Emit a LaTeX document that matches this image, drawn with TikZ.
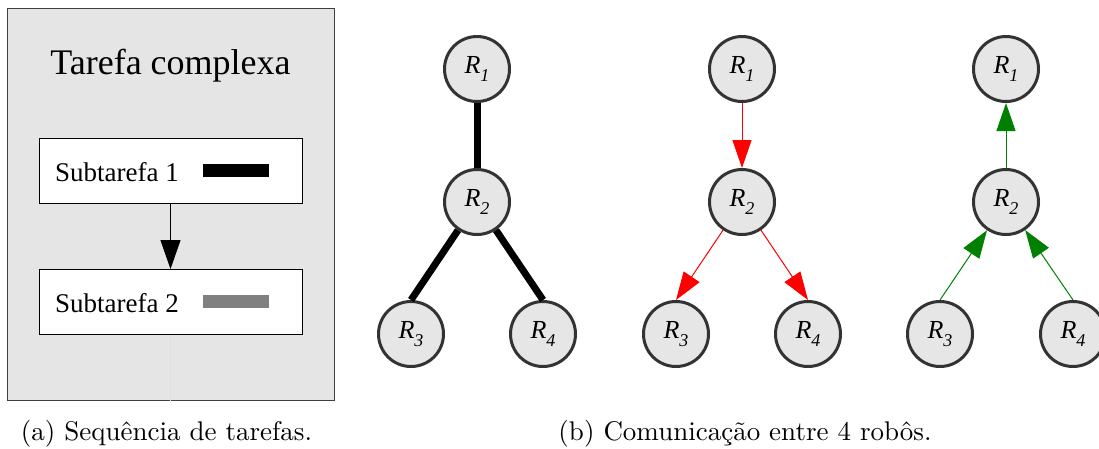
\documentclass[tikz,border=0pt]{standalone}
\usepackage{fontspec}
\usetikzlibrary{arrows.meta}
\newfontfamily\timesfont{Liberation Serif}
\newfontfamily\capfont{lmroman10-regular}[Extension=.otf]
\definecolor{panelgray}{HTML}{E5E5E5}
\definecolor{nodegray}{HTML}{E6E6E6}
\definecolor{ringgray}{HTML}{333333}
\definecolor{darkgreen}{HTML}{008000}
\newcommand{\rlabel}[1]{{\timesfont\itshape\fontsize{26}{26}\selectfont R\raisebox{-7.5pt}{\fontsize{18}{18}\selectfont #1}}}
\tikzset{
  robot/.style={circle, draw=ringgray, line width=3pt, fill=nodegray,
    minimum size=65pt, inner sep=0pt},
  subbox/.style={draw=black, line width=0.9pt, fill=white,
    minimum width=263pt, minimum height=65pt, inner sep=0pt},
  subtext/.style={anchor=base west, inner sep=0pt,
    font=\timesfont\fontsize{27}{27}\selectfont},
  caption/.style={anchor=base, inner sep=0pt, font=\capfont\fontsize{27}{32}\selectfont},
  strong/.style={line width=7pt, black},
  tip/.style={-{Triangle[length=28pt,width=19pt]}, line width=1pt},
}
\begin{document}
\begin{tikzpicture}[x=1pt,y=-1pt]
\useasboundingbox (0,0) rectangle (1099,448);

% task sequence panel
\node[draw=black!75, line width=1pt, fill=panelgray, minimum width=327pt,
  minimum height=392pt, inner sep=0pt] (panel) at (170.5,204) {};
\node[anchor=base, inner sep=0pt, font=\timesfont\fontsize{36}{36}\selectfont]
  (title) at (170.5,74) {Tarefa complexa};
\node[subbox] (sub1) at (170.5,170.5) {};
\node[subbox] (sub2) at (170.5,302) {};
\node[subtext] (t1) at (55,181) {Subtarefa 1};
\node[subtext] (t2) at (55,312) {Subtarefa 2};
\node[fill=black, minimum width=66pt, minimum height=13pt, inner sep=0pt]
  (bar1) at (236,170.5) {};
\node[fill=black!50, minimum width=66pt, minimum height=13pt, inner sep=0pt]
  (bar2) at (236,301.5) {};
\draw[-{Triangle[length=29pt,width=20pt]}, line width=1pt] (sub1) -- (sub2);
\draw[black!13, line width=0.5pt] (sub2.south) -- (panel.south);

% tree with plain links
\node[robot] (a1) at (477,69) {\rlabel{1}};
\node[robot] (a2) at (477,202) {\rlabel{2}};
\node[robot] (a3) at (411,334) {\rlabel{3}};
\node[robot] (a4) at (543,334) {\rlabel{4}};
\draw[strong] (a1) -- (a2);
\draw[strong] (a2) -- (a3.north);
\draw[strong] (a2) -- (a4.north);

% tree with messages sent downwards
\node[robot] (b1) at (742,69) {\rlabel{1}};
\node[robot] (b2) at (742,202) {\rlabel{2}};
\node[robot] (b3) at (676,334) {\rlabel{3}};
\node[robot] (b4) at (808,334) {\rlabel{4}};
\draw[tip, red] (b1) -- (b2);
\draw[tip, red] (b2) -- (b3.north);
\draw[tip, red] (b2) -- (b4.north);

% tree with messages sent upwards
\node[robot] (c1) at (1006,69) {\rlabel{1}};
\node[robot] (c2) at (1006,202) {\rlabel{2}};
\node[robot] (c3) at (940,334) {\rlabel{3}};
\node[robot] (c4) at (1073,334) {\rlabel{4}};
\draw[tip, darkgreen] (c2) -- (c1);
\draw[tip, darkgreen] (c3.north) -- (c2);
\draw[tip, darkgreen] (c4.north) -- (c2);

% captions
\node[caption] (capa) at (166.5,440) {(a) Sequência de tarefas.};
\node[caption] (capb) at (745,440) {(b) Comunicação entre 4 robôs.};
\end{tikzpicture}
\end{document}
